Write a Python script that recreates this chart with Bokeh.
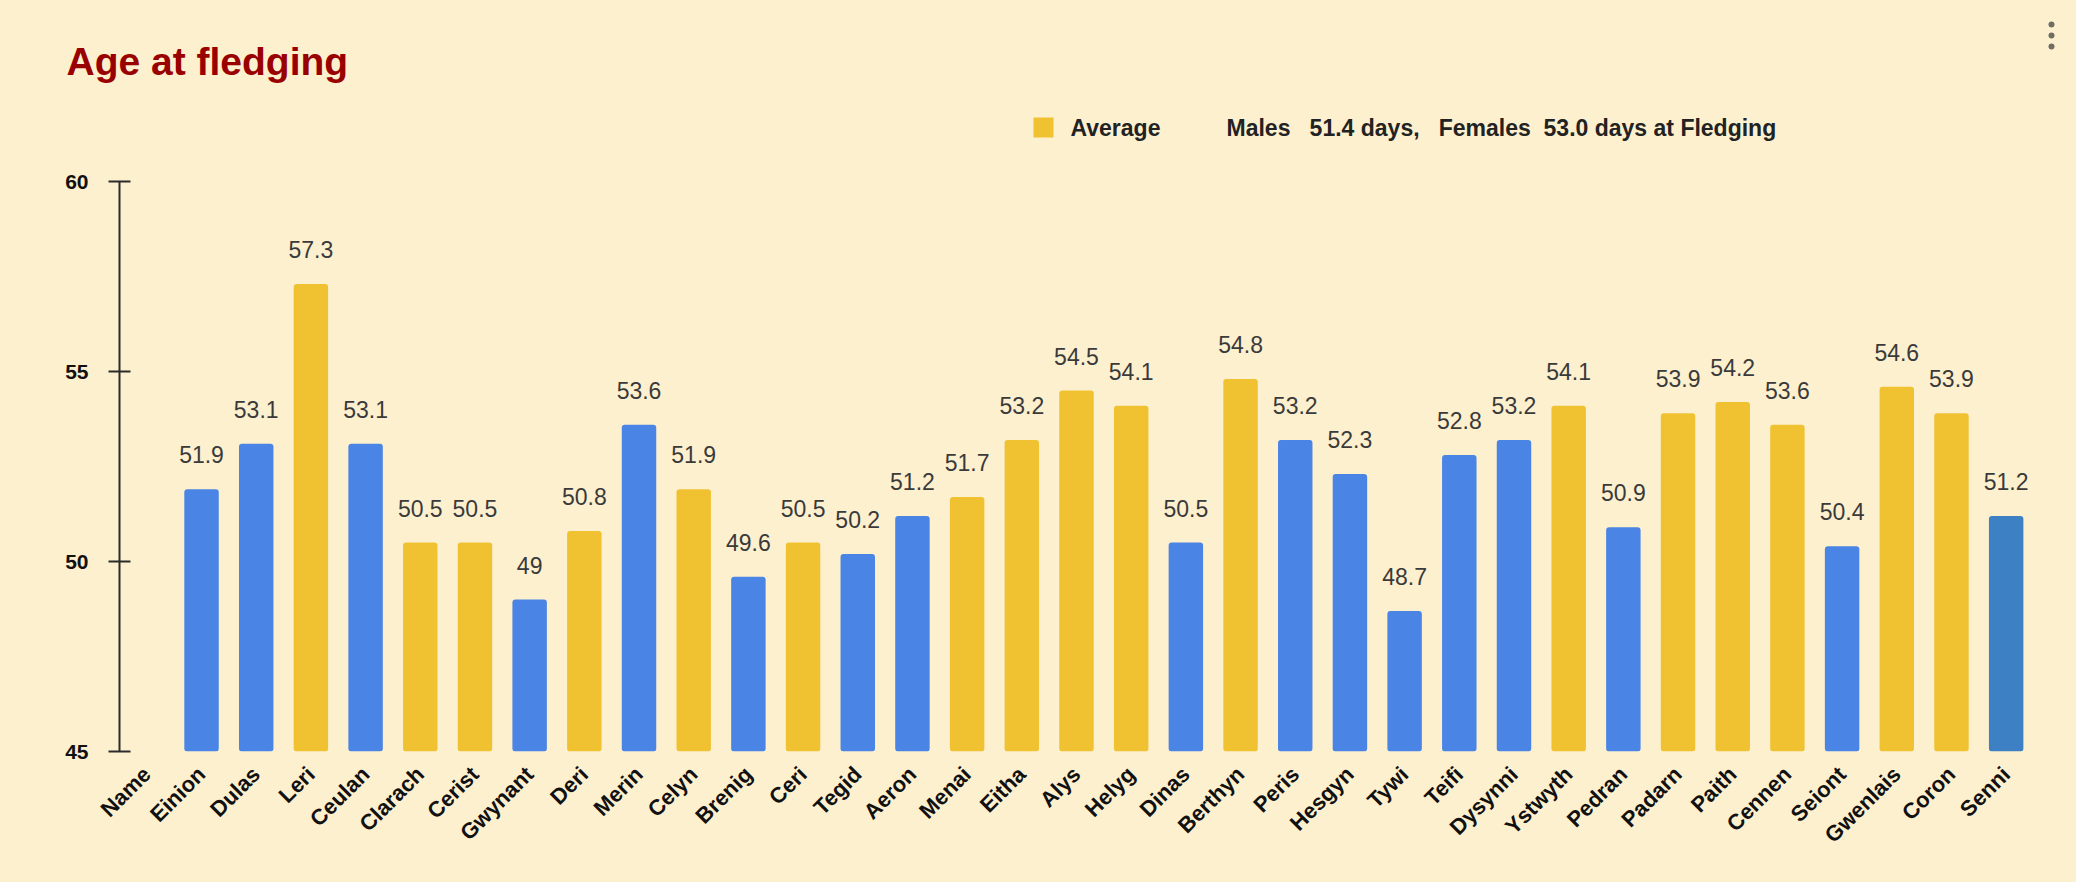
import math
from bokeh.plotting import figure
from bokeh.models import ColumnDataSource, FactorRange, FixedTicker, LabelSet, Range1d
from bokeh.layouts import column
from bokeh.transform import factor_cmap
from bokeh.core.properties import value
from bokeh.embed import file_html
from bokeh.resources import INLINE

# ---------------- data ----------------
categories = ["Name", "Einion", "Dulas", "Leri", "Ceulan", "Clarach", "Cerist",
              "Gwynant", "Deri", "Merin", "Celyn", "Brenig", "Ceri", "Tegid",
              "Aeron", "Menai", "Eitha", "Alys", "Helyg", "Dinas", "Berthyn",
              "Peris", "Hesgyn", "Tywi", "Teifi", "Dysynni", "Ystwyth", "Pedran",
              "Padarn", "Paith", "Cennen", "Seiont", "Gwenlais", "Coron", "Senni"]
names = categories[1:]
ages = [51.9, 53.1, 57.3, 53.1, 50.5, 50.5, 49.0, 50.8, 53.6, 51.9, 49.6, 50.5,
        50.2, 51.2, 51.7, 53.2, 54.5, 54.1, 50.5, 54.8, 53.2, 52.3, 48.7, 52.8,
        53.2, 54.1, 50.9, 53.9, 54.2, 53.6, 50.4, 54.6, 53.9, 51.2]
sex = ["M", "M", "F", "M", "F", "F", "M", "F", "M", "F", "M", "F", "M", "M",
       "F", "F", "F", "F", "M", "F", "M", "M", "M", "M", "M", "F", "M", "F",
       "F", "F", "M", "F", "F", "H"]
y_ticks = [45, 50, 55, 60]
title_text = "Age at fledging"
legend_label = "Average"
note_text = "Males\u00a0\u00a0 51.4 days,\u00a0\u00a0 Females\u00a0 53.0 days at Fledging"

labels = [("%g" % a) for a in ages]

# ---------------- styles ----------------
BG = "#fdf0cf"
BLUE = "#4a84e4"
YELLOW = "#f0c232"
DARKBLUE = "#3d80c4"
FONT = "Liberation Sans"
W = 2076
HEAD_H = 170
MAIN_H = 712

# ---------------- header (title + legend) ----------------
head = figure(width=W, height=HEAD_H, x_range=Range1d(0, W),
              y_range=Range1d(HEAD_H, 0), output_backend="svg",
              toolbar_location=None, tools="", min_border=0,
              x_axis_location=None, y_axis_location=None)
head.frame_align = False
head.grid.grid_line_color = None
head.outline_line_color = None
head.background_fill_color = BG
head.border_fill_color = BG

head.text(x=[66], y=[61], text=[title_text], text_font=value(FONT),
          text_font_style="bold", text_font_size="39px", text_color="#990000",
          text_baseline="alphabetic")
head.quad(left=[1033], right=[1053], top=[117], bottom=[137],
          fill_color=YELLOW, line_color=None)
head.text(x=[1070], y=[127], text=[legend_label], text_font=value(FONT),
          text_font_style="bold", text_font_size="23px", text_color="#222222",
          text_baseline="middle")
head.text(x=[1226], y=[127], text=[note_text], text_font=value(FONT),
          text_font_style="bold", text_font_size="23px", text_color="#222222",
          text_baseline="middle")
head.scatter(x=[2051, 2051, 2051], y=[24, 35, 46], size=6,
             fill_color="#6e6e62", line_color=None)

# ---------------- main chart ----------------
src = ColumnDataSource(dict(name=names, age=ages, sex=sex, label=labels,
                            bottom=[45] * len(names)))

p = figure(x_range=FactorRange(factors=categories, range_padding=0),
           y_range=(45, 60), width=W, height=MAIN_H,
           output_backend="svg", toolbar_location=None, tools="",
           min_border_left=119, min_border_right=43,
           min_border_top=11, min_border_bottom=131)
p.frame_align = False
p.background_fill_color = BG
p.background_fill_alpha = 0
p.border_fill_color = BG
p.outline_line_color = None
p.grid.grid_line_color = None

p.vbar(x="name", top="age", bottom="bottom", width=0.63, source=src,
       fill_color=factor_cmap("sex", [BLUE, YELLOW, DARKBLUE], ["M", "F", "H"]),
       line_color=None, border_radius=3)

p.add_layout(LabelSet(x="name", y="age", text="label", source=src,
                      text_align="center", text_baseline="alphabetic",
                      y_offset=26, text_font=value(FONT), text_font_size="23px",
                      text_color="#3a3a3a"))

yax = p.yaxis[0]
yax.ticker = FixedTicker(ticks=y_ticks)
yax.axis_line_color = "#2b2b2b"
yax.axis_line_width = 2
yax.major_tick_line_color = "#2b2b2b"
yax.major_tick_line_width = 2
yax.major_tick_in = 11
yax.major_tick_out = 11
yax.minor_tick_line_color = None
yax.major_label_text_font = FONT
yax.major_label_text_font_style = "bold"
yax.major_label_text_font_size = "21px"
yax.major_label_text_color = "#111111"
yax.major_label_standoff = 20

xax = p.xaxis[0]
xax.axis_line_color = None
xax.major_tick_line_color = None
xax.minor_tick_line_color = None
xax.major_label_orientation = math.pi / 4
xax.major_label_text_font = FONT
xax.major_label_text_font_style = "bold"
xax.major_label_text_font_size = "22px"
xax.major_label_text_color = "#111111"
xax.major_label_standoff = 13

layout = column(head, p, spacing=0, styles={"background-color": BG})
open("out.html", "w").write(file_html(layout, INLINE))
